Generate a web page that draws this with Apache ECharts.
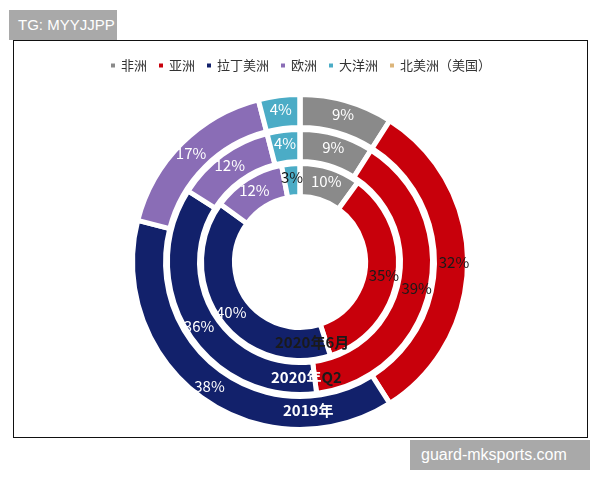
<!DOCTYPE html>
<html>
<head>
<meta charset="utf-8">
<script src="https://cdn.jsdelivr.net/npm/echarts@6/dist/echarts.min.js"></script>
<style>
  body { margin: 0; background: #fff; }
  #wrap { position: relative; width: 600px; height: 480px; }
  #main { position: absolute; left: 0; top: 0; width: 600px; height: 480px; }
  .frame { position: absolute; left: 13px; top: 40px; width: 575px; height: 398px; border: 1.5px solid #111; box-sizing: border-box; }
  .wm { position: absolute; background: #a9a9a9; color: #fff; font-family: "Liberation Sans", Arial, sans-serif; font-size: 16px; line-height: 30px; height: 30px; box-sizing: border-box; padding-left: 10px; white-space: nowrap; }
</style>
</head>
<body>
<div id="wrap">
  <div class="frame"></div>
  <div id="main"></div>
  <div class="wm" style="left:9px;top:10px;width:108px;padding-left:9px;font-size:15px;">TG: MYYJJPP</div>
  <div class="wm" style="left:410px;top:440px;width:180px;padding-left:11px;">guard-mksports.com</div>
</div>
<script>
var regions = ['非洲', '亚洲', '拉丁美洲', '欧洲', '大洋洲', '北美洲（美国）'];
var colors = ['#8a8a8a', '#c8000b', '#12216b', '#8a6db6', '#4bacc6', '#dcb57a'];
var periods = ['2019年', '2020年Q2', '2020年6月'];
var share2019 = [9, 32, 38, 17, 4, 0];
var share2020Q2 = [9, 39, 36, 12, 4, 0];
var share2020Jun = [10, 35, 40, 12, 3, 0];

var myChart = echarts.init(document.getElementById('main'));
var font = '"Noto Sans CJK SC", "Noto Sans", sans-serif';

function ring(name, values, radius, inner) {
  return {
    name: name,
    type: 'pie',
    center: [300, 262],
    radius: radius,
    startAngle: 90,
    clockwise: true,
    silent: true,
    avoidLabelOverlap: false,
    labelLine: { show: false },
    itemStyle: { borderColor: '#fff', borderWidth: 5 },
    label: {
      show: true,
      position: 'inside',
      color: '#fff',
      fontSize: 15,
      fontFamily: font,
      formatter: function (p) { return p.value ? p.value + '%' : ''; }
    },
    data: values.map(function (v, i) {
      var item = { name: regions[i], value: v };
      if (i === 1 || (inner && i === 4)) {
        item.label = { color: '#1a1a1a' };
      }
      return item;
    })
  };
}

var option = {
  color: colors,
  legend: {
    top: 54,
    left: 'center',
    icon: 'rect',
    itemWidth: 6,
    itemHeight: 6,
    itemGap: 10,
    textStyle: { fontSize: 13, color: '#333', fontFamily: font },
    data: regions
  },
  series: [
    ring(periods[0], share2019, [134.5, 167.5], false),
    ring(periods[1], share2020Q2, [100.5, 132.5], false),
    ring(periods[2], share2020Jun, [65.5, 98.5], true)
  ],
  graphic: [
    { type: 'text', z: 100, left: 283, top: 403, style: { text: periods[0], fill: '#fff', font: 'bold 15px ' + font } },
    { type: 'text', z: 100, left: 271, top: 370, style: {
        text: '{w|2020年}{k|Q2}',
        rich: {
          w: { fill: '#fff', font: 'bold 15px ' + font },
          k: { fill: '#1a1a1a', font: 'bold 15px ' + font }
        } } },
    { type: 'text', z: 100, left: 275, top: 335, style: { text: periods[2], fill: '#1a1a1a', font: 'bold 15px ' + font } }
  ]
};

option && myChart.setOption(option);
</script>
</body>
</html>
